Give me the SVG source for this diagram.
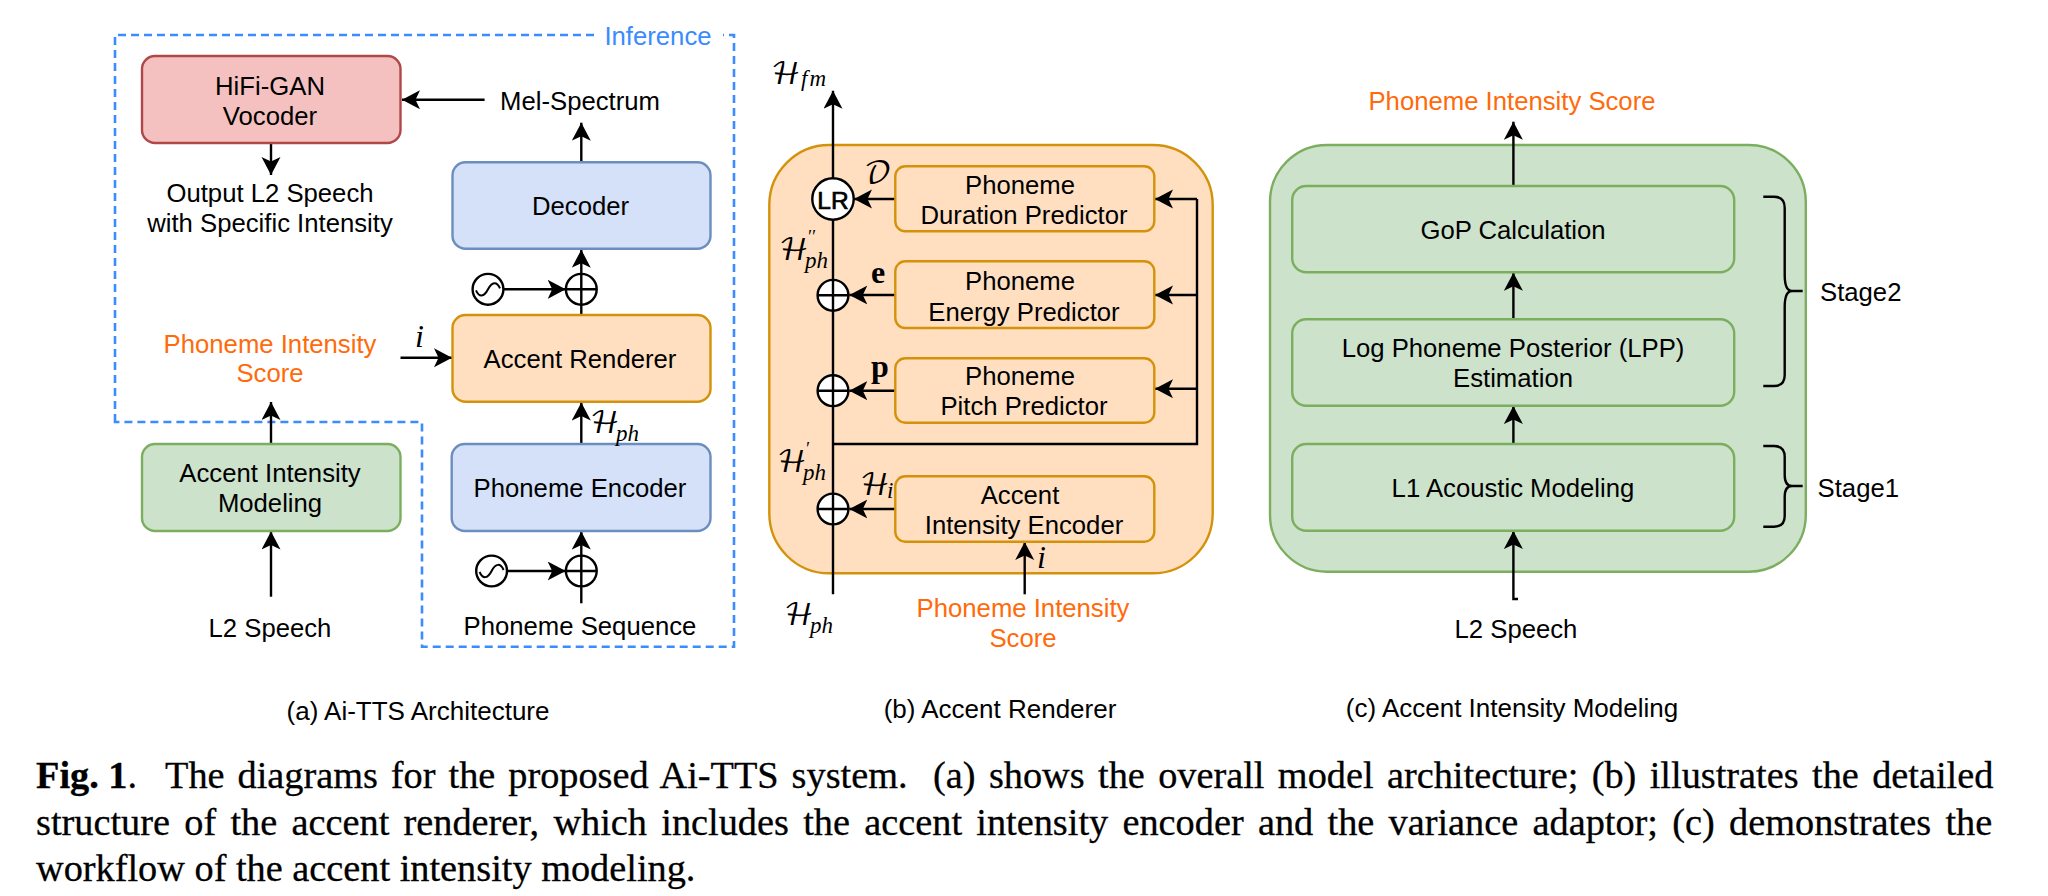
<svg xmlns="http://www.w3.org/2000/svg" width="2048" height="896" viewBox="0 0 2048 896">
<style>
text{font-family:"Liberation Sans",Arial,sans-serif;font-size:25.7px;fill:#000;text-anchor:middle}
.or{fill:#ff6a0a}
.cp{font-size:26px}
.cap{font-family:"Liberation Serif","Times New Roman",serif;font-size:38.3px;text-anchor:start;stroke:#000;stroke-width:.3}
.bold{font-weight:700}
.m{font-family:"DejaVu Math TeX Gyre","DejaVu Serif",serif;font-size:30px;text-anchor:start}
.mi{font-family:"Liberation Serif",serif;font-style:italic;font-size:23px}
.pr{font-family:"Liberation Serif",serif;font-style:italic;font-size:18px;text-anchor:start}
.mb{font-family:"Liberation Serif",serif;font-weight:700;font-size:32px;text-anchor:start}
.ii{font-family:"Liberation Serif",serif;font-style:italic;font-size:32px;text-anchor:start}
.st{text-anchor:start}
.pk rect{fill:#f5c0c0;stroke:#b04848;stroke-width:2.4}
.bl rect{fill:#d4e1f9;stroke:#6c8ebf;stroke-width:2.4}
.og rect{fill:#ffdfc0;stroke:#d4920a;stroke-width:2.4}
.gr rect{fill:#cde2cb;stroke:#7cae5f;stroke-width:2.4}
.c{fill:none;stroke:#000;stroke-width:2.4}
.a{marker-end:url(#ah)}
.fr{fill:none;stroke:#3b8cff;stroke-width:2.6;stroke-dasharray:8 5}
.sym{fill:#fff;stroke:#000;stroke-width:2.4}
</style>
<defs>
<marker id="ah" markerUnits="userSpaceOnUse" markerWidth="20" markerHeight="20" viewBox="0 0 20 20" refX="18" refY="9.5" orient="auto"><path d="M18 9.5 0 0 4.5 9.5 0 19Z" fill="#000"/></marker>
<g id="oplus"><circle r="15.4" class="sym"/><path d="M-15.4 0H15.4M0-15.4V15.4" class="sym"/></g>
<g id="sine"><circle r="15.4" class="sym"/><path d="M-12 1C-9 8-4 8 0 0S9-8 12-1" fill="none" stroke="#000" stroke-width="2"/></g>
</defs>
<rect width="2048" height="896" fill="#fff"/>

<g id="inference-frame">
<path class="fr" d="M115 422V35H734V646.7H422V422Z"/>
<rect x="595" y="22" width="128" height="26" fill="#fff"/>
<text x="658" y="45" style="fill:#3a8bfd">Inference</text>
</g>

<g id="panel-b" class="og"><rect x="769.3" y="145" width="443.4" height="428.3" rx="60"/></g>
<g id="panel-c" class="gr"><rect x="1270" y="145" width="535.8" height="426.7" rx="57"/></g>

<g id="connectors">
<path class="c a" d="M484.6 99.7H402"/>
<path class="c a" d="M271 143V175"/>
<path class="c a" d="M581.3 162V122.7"/>
<path class="c a" d="M581.3 315V249.7"/>
<path class="c a" d="M504 289.3H565.7"/>
<path class="c a" d="M400.5 357.7H452"/>
<path class="c a" d="M271 444V402"/>
<path class="c a" d="M271 596.7V531.5"/>
<path class="c a" d="M581.3 444V402.5"/>
<path class="c a" d="M581.3 603.3V531.5"/>
<path class="c a" d="M507 571H565.7"/>
<path class="c a" d="M833 594.3V90.7"/>
<path class="c a" d="M895.3 199H854"/>
<path class="c a" d="M895.3 295H849.3"/>
<path class="c a" d="M895.3 390.7H849.3"/>
<path class="c a" d="M895.3 509H849.3"/>
<path class="c" d="M833 444H1197V199"/>
<path class="c a" d="M1197 199H1155"/>
<path class="c a" d="M1197 295H1155"/>
<path class="c a" d="M1197 388.7H1155"/>
<path class="c a" d="M1024.7 594.3V542"/>
<path class="c a" d="M1513.4 186V121.7"/>
<path class="c a" d="M1513.4 319.3V272.8"/>
<path class="c a" d="M1513.4 444V406"/>
<path class="c a" d="M1518 599H1513.4V531"/>
</g>

<g id="hifigan" class="pk"><rect x="142" y="56" width="258.5" height="87" rx="13"/><text x="270" y="95">HiFi-GAN</text><text x="270" y="125">Vocoder</text></g>
<g id="mel"><text x="580" y="110">Mel-Spectrum</text></g>
<g id="output"><text x="270" y="201.7">Output L2 Speech</text><text x="270" y="231.7">with Specific Intensity</text></g>
<g id="decoder" class="bl"><rect x="452.5" y="162.3" width="258" height="86.4" rx="13"/><text x="580.5" y="215">Decoder</text></g>
<g id="accent-renderer" class="og"><rect x="452.5" y="315" width="258" height="86.7" rx="13"/><text x="580" y="368">Accent Renderer</text></g>
<g id="score-a"><text class="or" x="270" y="352.7">Phoneme Intensity</text><text class="or" x="270" y="382.3">Score</text></g>
<g id="i-a"><text class="ii" x="415" y="346.7">i</text></g>
<g id="aim" class="gr"><rect x="142" y="444" width="258.5" height="87" rx="13"/><text x="270" y="481.7">Accent Intensity</text><text x="270" y="511.7">Modeling</text></g>
<g id="l2-a"><text x="270" y="637">L2 Speech</text></g>
<g id="phoneme-encoder" class="bl"><rect x="451.7" y="444" width="258.8" height="87" rx="13"/><text x="580" y="496.7">Phoneme Encoder</text></g>
<g id="hph-a"><text class="m" x="590" y="433">ℋ<tspan class="mi" x="616" y="441">ph</tspan></text></g>
<g id="seq"><text x="580" y="635.3">Phoneme Sequence</text></g>
<use id="oplus-a1" href="#oplus" x="581.3" y="289.3"/>
<use id="sine-a1" href="#sine" x="488" y="289.3"/>
<use id="oplus-a2" href="#oplus" x="581.3" y="571"/>
<use id="sine-a2" href="#sine" x="491.6" y="571"/>
<g id="cap-a"><text class="cp" x="418" y="720">(a) Ai-TTS Architecture</text></g>

<g id="duration" class="og"><rect x="895.3" y="166.3" width="259" height="65" rx="10"/><text x="1020" y="194">Phoneme</text><text x="1024" y="224">Duration Predictor</text></g>
<g id="energy" class="og"><rect x="895.3" y="261.3" width="259" height="66.7" rx="10"/><text x="1020" y="290">Phoneme</text><text x="1024" y="321">Energy Predictor</text></g>
<g id="pitch" class="og"><rect x="895.3" y="358.3" width="259" height="64.4" rx="10"/><text x="1020" y="385">Phoneme</text><text x="1024" y="415">Pitch Predictor</text></g>
<g id="intensity-encoder" class="og"><rect x="895.3" y="476.3" width="259" height="65.4" rx="10"/><text x="1020" y="504">Accent</text><text x="1024" y="534">Intensity Encoder</text></g>
<g id="lr"><circle cx="833" cy="199" r="20.7" class="sym"/><text x="833" y="208.5" style="font-size:24.5px;stroke:#000;stroke-width:.7">LR</text></g>
<use id="oplus-b1" href="#oplus" x="833" y="295.3"/>
<use id="oplus-b2" href="#oplus" x="833" y="390.7"/>
<use id="oplus-b3" href="#oplus" x="833" y="509"/>
<g id="hfm"><text class="m" x="771" y="84">ℋ<tspan class="mi" x="801" y="86" letter-spacing="2">fm</tspan></text></g>
<g id="d-label"><text class="m" x="864" y="183">𝒟</text></g>
<g id="e-label"><text class="mb" x="871" y="282.7">e</text></g>
<g id="p-label"><text class="mb" x="871" y="376.7">p</text></g>
<g id="hpp"><text class="m" x="779" y="260">ℋ<tspan class="mi" x="805" y="268">ph</tspan></text><text class="pr" x="807" y="243">′′</text></g>
<g id="hp"><text class="m" x="777" y="471.7">ℋ<tspan class="mi" x="803" y="480">ph</tspan></text><text class="pr" x="805" y="455">′</text></g>
<g id="hi"><text class="m" x="860" y="495">ℋ<tspan class="mi" x="887" y="498">i</tspan></text></g>
<g id="i-b"><text class="ii" x="1037" y="567.7">i</text></g>
<g id="hph-b"><text class="m" x="784" y="625">ℋ<tspan class="mi" x="810" y="633">ph</tspan></text></g>
<g id="score-b"><text class="or" x="1023" y="617.3">Phoneme Intensity</text><text class="or" x="1023" y="647.3">Score</text></g>
<g id="cap-b"><text class="cp" x="1000" y="718.3">(b) Accent Renderer</text></g>

<g id="score-c"><text class="or" x="1512" y="110.3">Phoneme Intensity Score</text></g>
<g id="gop" class="gr"><rect x="1292.2" y="186" width="442" height="86.3" rx="14"/><text x="1513" y="239">GoP Calculation</text></g>
<g id="lpp" class="gr"><rect x="1292.2" y="319.3" width="442" height="86.4" rx="14"/><text x="1513" y="356.7">Log Phoneme Posterior (LPP)</text><text x="1513" y="386.7">Estimation</text></g>
<g id="l1" class="gr"><rect x="1292.2" y="444" width="442" height="86.7" rx="14"/><text x="1513" y="496.7">L1 Acoustic Modeling</text></g>
<g id="brace2"><path class="c" d="M1763.3 196.7H1774Q1784.7 196.7 1784.7 208V275Q1784.7 291 1792 291H1802.7M1792 291Q1784.7 291 1784.7 307V375Q1784.7 386 1774 386H1763.3"/><text class="st" x="1820" y="300.7">Stage2</text></g>
<g id="brace1"><path class="c" d="M1763.3 446H1774Q1784.7 446 1784.7 457V475Q1784.7 486 1792 486H1802.7M1792 486Q1784.7 486 1784.7 497V516Q1784.7 526.7 1774 526.7H1763.3"/><text class="st" x="1817.6" y="496.7">Stage1</text></g>
<g id="l2-c"><text x="1516" y="638.3">L2 Speech</text></g>
<g id="cap-c"><text class="cp" x="1512" y="716.7">(c) Accent Intensity Modeling</text></g>

<g id="caption">
<text class="cap" x="36" y="788"><tspan class="bold">Fig. 1</tspan>.</text>
<text class="cap" x="165" y="788" style="word-spacing:3.4px">The diagrams for the proposed Ai-TTS system.</text>
<text class="cap" x="933" y="788" style="word-spacing:3.8px">(a) shows the overall model architecture; (b) illustrates the detailed</text>
<text class="cap" x="36" y="834.5" style="word-spacing:4.7px">structure of the accent renderer, which includes the accent intensity encoder and the variance adaptor; (c) demonstrates the</text>
<text class="cap" x="36" y="880.5">workflow of the accent intensity modeling.</text>
</g>
</svg>
